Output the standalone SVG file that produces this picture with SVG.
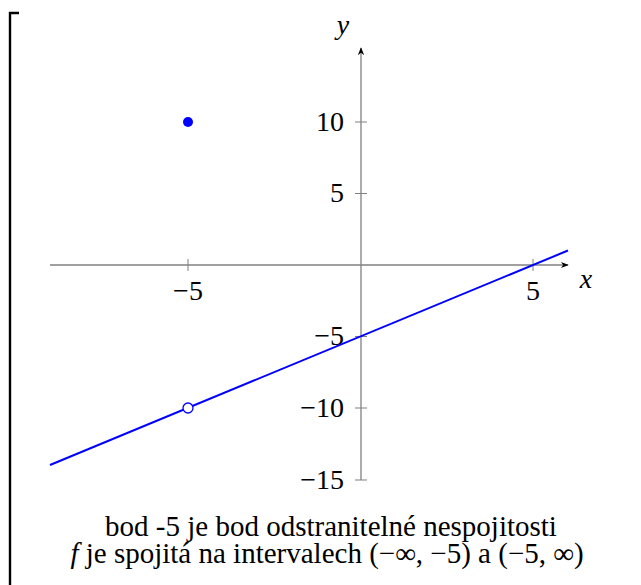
<svg xmlns="http://www.w3.org/2000/svg" width="641" height="585" viewBox="0 0 641 585">
<defs>
<style>
.axis{stroke:#808080;stroke-width:1.3;fill:none}
.tk{stroke:#808080;stroke-width:1}
</style>
<marker id="ah" viewBox="0 0 10 10" refX="9" refY="5" markerWidth="8" markerHeight="8" orient="auto" markerUnits="userSpaceOnUse">
<path d="M0,1 L10,5 L0,9 L3,5 Z" fill="#000"/>
</marker>
</defs>
<rect width="641" height="585" fill="#fff"/>
<path d="M19,13 H10 V585" stroke="#000" stroke-width="2.4" fill="none"/>
<g id="axes">
<line class="axis" x1="50" y1="265" x2="568" y2="265" marker-end="url(#ah)"/>
<line class="axis" x1="361" y1="480" x2="361" y2="48" marker-end="url(#ah)"/>
<line class="tk" x1="188" y1="259" x2="188" y2="271"/>
<line class="tk" x1="533" y1="259" x2="533" y2="271"/>
<line class="tk" x1="355" y1="122" x2="367" y2="122"/>
<line class="tk" x1="355" y1="193.5" x2="367" y2="193.5"/>
<line class="tk" x1="355" y1="336.5" x2="367" y2="336.5"/>
<line class="tk" x1="355" y1="408" x2="367" y2="408"/>
<line class="tk" x1="355" y1="480" x2="367" y2="480"/>
<text x="188" y="300" text-anchor="middle" font-family="Liberation Serif" font-size="28">−5</text>
<text x="533" y="300" text-anchor="middle" font-family="Liberation Serif" font-size="28">5</text>
<text x="344" y="131" text-anchor="end" font-family="Liberation Serif" font-size="28">10</text>
<text x="344" y="202" text-anchor="end" font-family="Liberation Serif" font-size="28">5</text>
<text x="344" y="345" text-anchor="end" font-family="Liberation Serif" font-size="28">−5</text>
<text x="344" y="417" text-anchor="end" font-family="Liberation Serif" font-size="28">−10</text>
<text x="344" y="489" text-anchor="end" font-family="Liberation Serif" font-size="28">−15</text>
<text x="586" y="288" text-anchor="middle" font-style="italic" font-family="Liberation Serif" font-size="28">x</text>
<text x="343" y="34" text-anchor="middle" font-style="italic" font-family="Liberation Serif" font-size="28">y</text>
</g>
<g id="graph">
<line x1="50" y1="465" x2="568" y2="250.5" stroke="#0000ff" stroke-width="2"/>
<circle cx="188" cy="122" r="5" fill="#0000ff"/>
<circle cx="188" cy="408" r="5" fill="#fff" stroke="#0000ff" stroke-width="1.3"/>
</g>
<g id="caption">
<text x="331" y="536" text-anchor="middle" font-family="Liberation Serif" font-size="29">bod -5 je bod odstranitelné nespojitosti</text>
<text x="327" y="563" text-anchor="middle" font-family="Liberation Serif" font-size="29"><tspan font-style="italic">f</tspan> je spojitá na intervalech (−∞, −5) a (−5, ∞)</text>
</g>
</svg>
